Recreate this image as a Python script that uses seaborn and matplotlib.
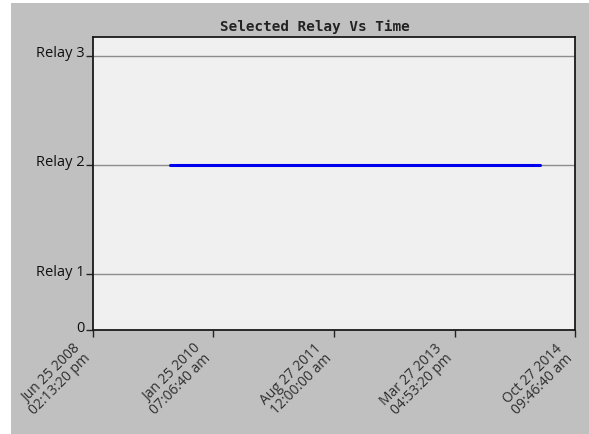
import pandas as pd
import numpy as np
import matplotlib.pyplot as plt
import matplotlib.transforms as mtransforms
from matplotlib.patches import Rectangle
import seaborn as sns

# Data
times = ['2009-06-30 00:00:00', '2014-05-11 00:00:00']
relay = [2, 2]

# Axis ticks and labels
x_ticks = ['2008-06-25 14:13:20', '2010-01-25 07:06:40', '2011-08-27 12:00:00',
           '2013-03-27 16:53:20', '2014-10-27 09:46:40']
x_labels = ['Jun 25 2008\n02:13:20 pm', 'Jan 25 2010\n07:06:40 am', 'Aug 27 2011\n12:00:00 am',
            'Mar 27 2013\n04:53:20 pm', 'Oct 27 2014\n09:46:40 am']
y_ticks = [0.49, 1, 2, 3]
y_labels = ['0', 'Relay 1', 'Relay 2', 'Relay 3']

df = pd.DataFrame({'time': pd.to_datetime(times), 'relay': relay})
x_ticks = pd.to_datetime(x_ticks)

sns.set_style('white')
plt.rcParams['font.family'] = ['Open Sans', 'DejaVu Sans']

fig = plt.figure(figsize=(5.89, 4.34), dpi=100)
fig.patch.set_facecolor('white')
fig.patches.append(Rectangle((11 / 589, 0), 1, 1 - 3 / 434, transform=fig.transFigure,
                             facecolor='#c0c0c0', edgecolor='none', zorder=-10))
ax = fig.add_axes([93 / 589, 104 / 434, 482 / 589, 293 / 434])
ax.set_facecolor('#f0f0f0')

# Horizontal grid lines at relay levels
for val in [1, 2, 3]:
    ax.axhline(val, color='#8c8c8c', lw=1.0, zorder=1)

sns.lineplot(data=df, x='time', y='relay', color='#0000ee', lw=2.2, ax=ax, zorder=3)

ax.set_xlim(x_ticks[0], x_ticks[-1])
ax.set_ylim(0.49, 3.17)

ax.set_xticks(x_ticks)
ax.set_xticklabels(x_labels, rotation=45, ha='right', rotation_mode='anchor',
                   fontsize=10, color='#2e2e2e', linespacing=0.95)
ax.set_yticks(y_ticks)
ax.set_yticklabels(y_labels, fontsize=10.5, color='#111111', fontweight='medium')

ax.tick_params(axis='both', direction='out', length=5, width=1, color='#222222',
               bottom=True, left=True, pad=1)
ax.tick_params(axis='x', pad=3)

# shift x labels left, and y labels slightly up, like the reference
shift_x = mtransforms.ScaledTranslation(-20 / 100, 0, fig.dpi_scale_trans)
for lab in ax.get_xticklabels():
    lab.set_transform(lab.get_transform() + shift_x)
shift_y = mtransforms.ScaledTranslation(0, 4 / 100, fig.dpi_scale_trans)
for lab in ax.get_yticklabels():
    lab.set_transform(lab.get_transform() + shift_y)

for side in ['left', 'bottom', 'top', 'right']:
    ax.spines[side].set_visible(True)
    ax.spines[side].set_color('#1a1a1a')
    ax.spines[side].set_linewidth(1.3)

ax.set_xlabel('')
ax.set_ylabel('')
ax.set_title('Selected Relay Vs Time', family='DejaVu Sans Mono', fontsize=10.3,
             fontweight='bold', color='#222222', x=(315 - 93) / 482, pad=4)

fig.savefig('out.png', dpi=100, facecolor=fig.get_facecolor())
